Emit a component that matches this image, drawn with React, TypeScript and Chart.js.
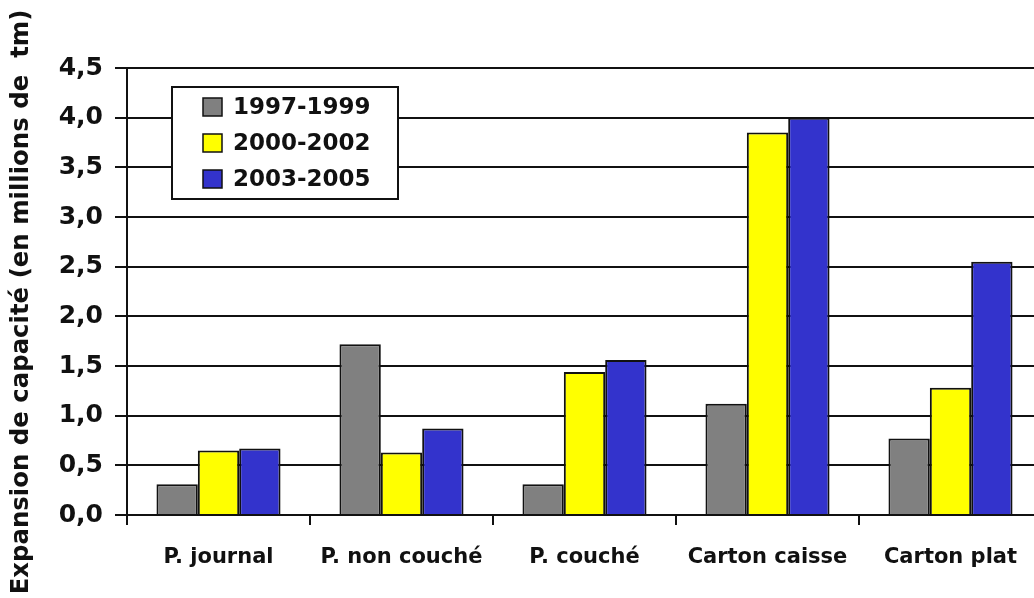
import React, { useEffect, useRef } from "react";
import { Chart, registerables } from "chart.js";

Chart.register(...registerables);

const categories = ["P. journal", "P. non couché", "P. couché", "Carton caisse", "Carton plat"];
const series1997 = [0.31, 1.72, 0.31, 1.12, 0.77];
const series2000 = [0.65, 0.63, 1.44, 3.85, 1.28];
const series2003 = [0.67, 0.87, 1.56, 4.0, 2.55];
const seriesLabels = ["1997-1999", "2000-2002", "2003-2005"];
const seriesColors = ["#808080", "#ffff00", "#3333cc"];
const yTitle = "Expansion de capacité (en millions de  tm)";

const FONT = "'DejaVu Sans', 'Liberation Sans', Arial, sans-serif";
const INK = "#111111";

const boxLegend = {
  id: "boxLegend",
  afterDraw(chart: any) {
    const ctx = chart.ctx;
    const x0 = 172, y0 = 87, w = 226, h = 112;
    ctx.save();
    ctx.fillStyle = "#ffffff";
    ctx.fillRect(x0, y0, w, h);
    ctx.lineWidth = 2;
    ctx.strokeStyle = INK;
    ctx.strokeRect(x0, y0, w, h);
    ctx.font = `bold 23px ${FONT}`;
    ctx.textBaseline = "middle";
    ctx.textAlign = "left";
    chart.data.datasets.forEach((ds: any, i: number) => {
      const cy = 107 + i * 36;
      ctx.fillStyle = ds.backgroundColor;
      ctx.fillRect(203, cy - 9, 19, 18);
      ctx.lineWidth = 1.5;
      ctx.strokeStyle = INK;
      ctx.strokeRect(203, cy - 9, 19, 18);
      ctx.fillStyle = INK;
      ctx.fillText(ds.label, 233, cy + 1);
    });
    ctx.restore();
  },
};

const axisTitle = {
  id: "axisTitle",
  afterDraw(chart: any) {
    const ctx = chart.ctx;
    ctx.save();
    ctx.translate(22, 302);
    ctx.rotate(-Math.PI / 2);
    ctx.font = `bold 24.4px ${FONT}`;
    ctx.fillStyle = INK;
    ctx.textAlign = "center";
    ctx.textBaseline = "middle";
    ctx.fillText(yTitle, 0, 0);
    ctx.restore();
  },
};

export default function App() {
  const ref = useRef<HTMLCanvasElement | null>(null);
  useEffect(() => {
    if (!ref.current) return;
    const values = [series1997, series2000, series2003];
    const chart = new Chart(ref.current, {
      type: "bar",
      data: {
        labels: categories,
        datasets: values.map((v, i) => ({
          label: seriesLabels[i],
          data: v,
          backgroundColor: seriesColors[i],
          borderColor: INK,
          borderWidth: 2,
          categoryPercentage: 0.678,
          barPercentage: 1,
        })),
      },
      options: {
        responsive: false,
        animation: false,
        layout: { padding: { top: 68, right: 18, left: 0, bottom: 0 } },
        plugins: { legend: { display: false }, tooltip: { enabled: false } },
        scales: {
          x: {
            offset: true,
            grid: {
              display: true,
              offset: true,
              drawOnChartArea: false,
              drawTicks: true,
              tickLength: 10,
              color: INK,
              lineWidth: 2,
            },
            border: { display: true, color: INK, width: 2 },
            ticks: {
              color: INK,
              font: { family: FONT, size: 21, weight: "bold" },
              padding: 20,
              maxRotation: 0,
              autoSkip: false,
            },
            afterFit: (scale: any) => {
              scale.height = 83;
            },
          },
          y: {
            min: 0,
            max: 4.5,
            ticks: {
              stepSize: 0.5,
              color: INK,
              padding: 12,
              font: { family: FONT, size: 25, weight: "bold" },
              callback: (v: any) => Number(v).toFixed(1).replace(".", ","),
            },
            grid: {
              color: INK,
              lineWidth: 2,
              drawTicks: true,
              tickLength: 12,
            },
            border: { display: true, color: INK, width: 2 },
            title: { display: false, text: yTitle },
            afterFit: (scale: any) => {
              scale.width = 127;
            },
          },
        },
      },
      plugins: [boxLegend, axisTitle],
    });
    return () => chart.destroy();
  }, []);

  return (
    <div
      style={{
        position: "fixed",
        left: 0,
        top: 0,
        width: 1034,
        height: 598,
        overflow: "hidden",
        background: "#ffffff",
      }}
    >
      <canvas ref={ref} width={1060} height={598} style={{ display: "block" }} />
    </div>
  );
}
